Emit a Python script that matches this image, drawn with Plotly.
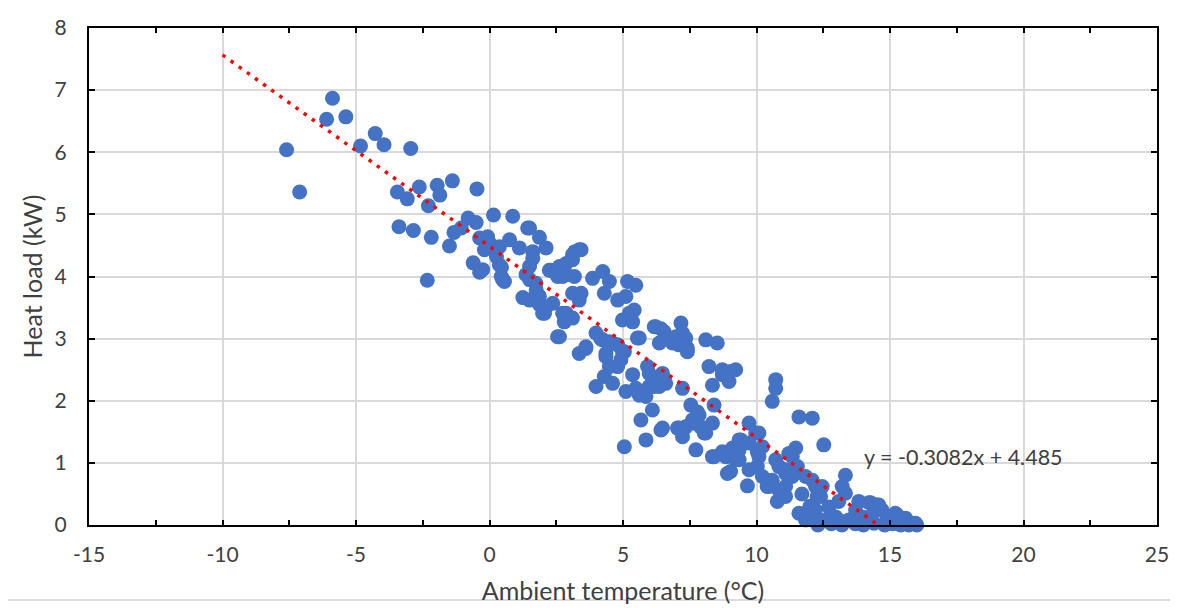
import plotly.graph_objects as go

# Ambient temperature (°C) and heat load (kW)
temp = [
    -5.88, -6.1, -5.38, -7.6, -7.11, -4.28, -3.95, -4.83, -2.95,
    -3.45, -3.08, -2.63, -1.96, -1.86, -1.39, -0.47, -2.29,
    -3.39, -2.85, -2.18, -1.5, -2.33, -0.8, -0.5, 0.15, -1.33, -1.06, -0.37, -0.12, -0.61, -0.37,
    0.87, 1.43, 1.87, 2.12, -0.25, 0.0, 0.37, 0.75, 1.12, 0.37, 0.44, 0.56, 1.37, 1.25, 1.75, 2.24,
    2.62, 2.87, 3.11, 3.2, 3.43, 3.11, 1.87,
    0.26, 0.45, -0.19, -0.07, -0.26, 0.49,
    2.3, 2.55, 2.87, 3.18, 3.86, 4.24, 4.49, 4.3, 4.8, 5.11, 5.17, 5.48,
    1.5, 1.62, 3.36, 3.11, 2.49, 2.74, 1.74, 1.5, 1.5, 1.62, 1.5,
    1.87, 2.06, 2.37, 2.12, 1.99, 2.87, 2.8, 3.11, 2.74, 2.93, 2.55, 3.36, 3.43, 5.42, 4.98, 5.36, 5.3, 5.24,
    3.99, 4.24, 4.61, 5.54, 3.36, 3.61, 4.36, 4.98, 6.17, 6.42, 6.85,
    2.62, 2.8, 6.23, 6.54, 7.17, 6.98, 7.1, 7.41, 7.35, 6.36, 5.61, 8.1, 8.53, 7.23, 6.85, 7.41,
    4.17, 4.49, 4.8, 5.05, 3.61, 4.36, 4.49, 4.8, 4.92, 5.92, 5.36, 4.3, 3.99, 4.61, 5.11, 5.48,
    5.86, 5.98, 6.36, 6.6, 6.48, 7.23,
    8.22, 8.72, 9.22, 8.97, 8.35, 8.72, 9.03,
    7.54, 7.85, 7.66, 7.91, 8.35, 8.1, 7.73, 8.41, 6.1, 5.67, 6.42, 5.86, 5.05, 7.04, 7.35, 7.23,
    8.35, 8.72, 9.1, 9.41, 9.72, 9.97,
    10.72, 10.72, 10.59, 6.48, 6.36, 5.98, 6.17, 5.61,
    7.6, 7.79, 8.04, 7.1, 6.48,
    9.35, 9.03, 8.85, 8.41, 9.22, 8.91, 9.66, 9.35, 9.35, 9.72, 10.03, 9.03, 9.72,
    10.09, 10.03, 10.22, 10.47, 10.78, 11.09, 11.09, 11.21, 11.09, 11.47, 11.34, 11.53, 11.84,
    12.09, 12.21, 12.4, 12.71, 13.08, 13.33, 13.33, 13.21, 13.83, 11.59, 11.84, 12.09, 12.59,
    12.96, 13.46, 10.84,
    12.52, 11.59, 12.09,
    14.21, 14.52, 14.7, 15.2, 15.58, 15.83, 13.71, 13.96,
    11.21, 10.72, 11.09, 11.34, 10.59, 10.84, 10.4, 12.21, 12.27, 12.46, 13.08, 10.09, 10.22,
    14.27, 14.58, 15.27, 15.58, 15.95,
    12.3, 12.8, 13.2, 13.7, 14.0, 14.4, 14.8, 15.1, 15.4, 15.7, 16.0, 14.9, 14.3, 12.0, 11.7,
]
load = [
    6.87, 6.53, 6.57, 6.04, 5.36, 6.3, 6.12, 6.1, 6.06,
    5.36, 5.25, 5.44, 5.47, 5.31, 5.54, 5.41, 5.14,
    4.8, 4.74, 4.63, 4.49, 3.94, 4.94, 4.87, 4.99, 4.71, 4.78, 4.62, 4.46, 4.22, 4.07,
    4.97, 4.78, 4.63, 4.46, 4.6, 4.54, 4.48, 4.59, 4.46, 4.19, 4.0, 3.92, 4.03, 3.66, 3.78, 4.1,
    4.16, 4.21, 4.27, 4.4, 4.43, 3.73, 3.68,
    4.32, 4.15, 4.43, 4.64, 4.11, 3.95,
    4.1, 4.0, 4.03, 4.0, 3.97, 4.08, 3.92, 3.73, 3.62, 3.68, 3.92, 3.86,
    4.78, 4.4, 4.43, 4.35, 4.08, 4.0, 3.89, 3.95, 4.16, 4.29, 3.62,
    3.55, 3.41, 3.57, 3.51, 3.41, 3.41, 3.27, 3.33, 3.41, 3.35, 3.03, 3.62, 3.73, 3.46, 3.3, 3.27, 3.38, 3.41,
    3.09, 2.98, 2.93, 3.01, 2.76, 2.87, 2.76, 2.79, 3.19, 3.16, 2.98,
    3.03, 3.38, 3.19, 3.11, 3.25, 3.03, 2.9, 2.85, 3.01, 2.93, 3.01, 2.98, 2.93, 3.09, 2.93, 2.79,
    3.0, 2.95, 2.9, 2.79, 2.84, 2.71, 2.55, 2.55, 2.66, 2.55, 2.42, 2.39, 2.23, 2.28, 2.15, 2.2,
    2.07, 2.23, 2.23, 2.28, 2.39, 2.2,
    2.55, 2.5, 2.5, 2.31, 2.25, 2.42, 2.47,
    1.93, 1.77, 1.64, 1.58, 1.64, 1.48, 1.21, 1.93, 1.85, 1.69, 1.53, 1.37, 1.26, 1.56, 1.58, 1.42,
    1.1, 1.18, 1.24, 1.37, 1.64, 1.48,
    2.34, 2.2, 1.99, 2.44, 2.34, 2.44, 2.23, 2.09,
    1.69, 1.82, 1.48, 1.56, 1.56,
    1.21, 1.18, 1.1, 1.1, 1.05, 0.83, 0.63, 1.37, 1.05, 1.32, 1.18, 0.86, 0.89,
    1.1, 0.94, 0.78, 0.62, 0.38, 0.46, 0.62, 0.78, 0.83, 1.24, 1.1, 0.94, 0.78,
    0.72, 0.62, 0.46, 0.29, 0.38, 0.51, 0.8, 0.62, 0.38, 0.19, 0.08, 0.13, 0.08,
    0.13, 0.08, 0.94,
    1.29, 1.74, 1.72,
    0.36, 0.32, 0.24, 0.19, 0.08, 0.03, 0.24, 0.13,
    1.15, 1.05, 0.89, 0.78, 0.72, 0.56, 0.62, 0.24, 0.46, 0.62, 0.08, 1.48, 1.26,
    0.36, 0.32, 0.16, 0.11, 0.03,
    0.0, 0.02, 0.0, 0.02, 0.0, 0.03, 0.0, 0.02, 0.0, 0.0, 0.0, 0.12, 0.15, 0.3, 0.5,
]

# Linear trendline reported on the chart
SLOPE = -0.3082
INTERCEPT = 4.485
trend_x = [-10, -INTERCEPT / SLOPE]
trend_y = [SLOPE * v + INTERCEPT for v in trend_x]
trend_label = "y = -0.3082x + 4.485"
label_pos = (13.94, 1.1)

x_ticks = [-15, -10, -5, 0, 5, 10, 15, 20, 25]
y_ticks = [0, 1, 2, 3, 4, 5, 6, 7, 8]

FONT = "Lato"
TXT = "#404040"

fig = go.Figure()
fig.add_trace(go.Scatter(
    x=temp, y=load, mode="markers",
    marker=dict(size=15, color="#4472C4", line=dict(width=0)),
    cliponaxis=False, showlegend=False,
))
fig.add_trace(go.Scatter(
    x=trend_x, y=trend_y, mode="lines",
    line=dict(color="#FF0000", width=3.5, dash="3.5px,6.5px"),
    showlegend=False,
))
fig.add_annotation(
    x=label_pos[0], y=label_pos[1], text=trend_label, showarrow=False,
    xanchor="left", yanchor="middle",
    font=dict(family=FONT, size=21.5, color=TXT),
)

fig.update_xaxes(
    range=[-15, 25], tickvals=x_ticks, ticktext=[str(v) for v in x_ticks],
    showgrid=True, gridcolor="#d9d9d9", gridwidth=2,
    showline=True, linecolor="black", linewidth=2, mirror="ticks",
    ticks="inside", ticklen=5, tickcolor="black", tickwidth=2,
    minor=dict(dtick=2.5, tick0=0, ticks="inside", ticklen=5, tickcolor="black",
               tickwidth=2, showgrid=False),
    zeroline=False, ticklabelstandoff=10,
    tickfont=dict(family=FONT, size=21, color=TXT),
    title=dict(text="Ambient temperature (°C)", standoff=17,
               font=dict(family=FONT, size=25, color=TXT)),
)
fig.update_yaxes(
    range=[0, 8], tickvals=y_ticks,
    showgrid=True, gridcolor="#d9d9d9", gridwidth=2,
    showline=True, linecolor="black", linewidth=2, mirror="ticks",
    ticks="inside", ticklen=6, tickcolor="black", tickwidth=2,
    zeroline=False, ticklabelstandoff=16,
    tickfont=dict(family=FONT, size=21, color=TXT),
    title=dict(text="Heat load (kW)", standoff=5,
               font=dict(family=FONT, size=25, color=TXT)),
)

fig.add_shape(type="rect", xref="paper", yref="paper",
              x0=-0.0768, x1=1.03, y0=-0.151, y1=1.08,
              line=dict(color="#d0d0d0", width=1.5), layer="below")

# The page body adds an 8px offset; size the figure so the plot area
# lands at x 89..1157, y 28..525 in the window.
fig.update_layout(
    width=1170, height=600,
    margin=dict(l=81, r=21, t=20, b=83, autoexpand=False),
    plot_bgcolor="white", paper_bgcolor="white",
)

fig.write_html("out.html")
